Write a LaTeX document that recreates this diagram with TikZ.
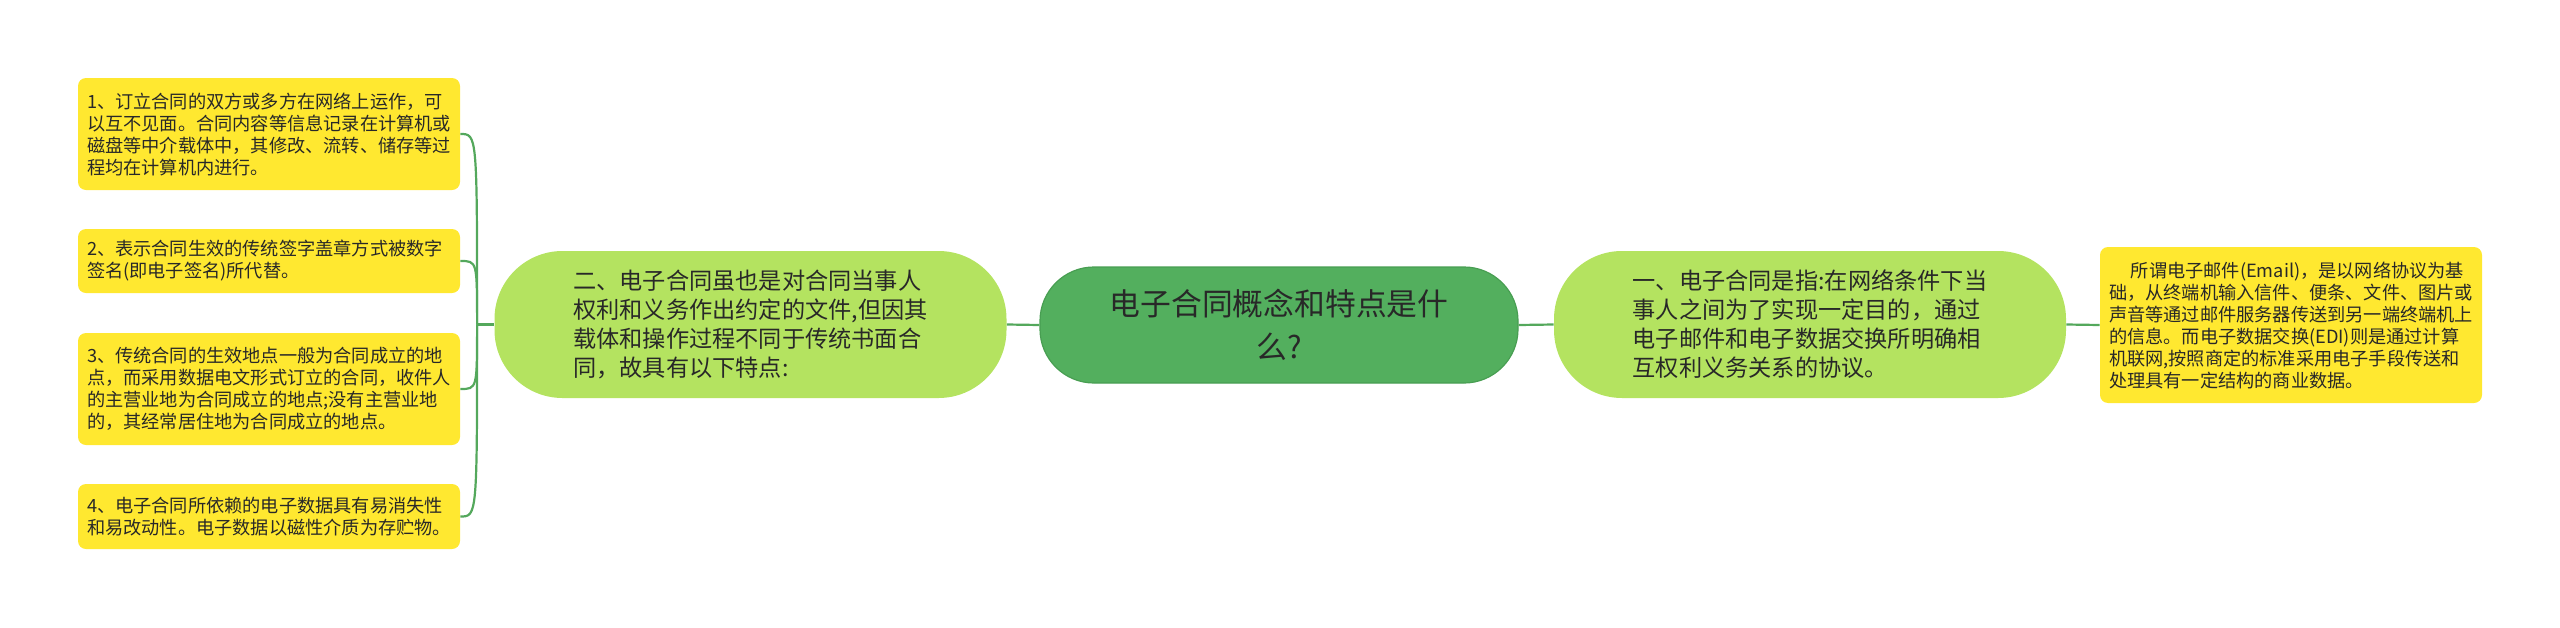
\documentclass[tikz,border=0pt]{standalone}
\usepackage{fontspec}
\setmainfont{Noto Sans CJK SC}
\definecolor{cenfill}{RGB}{83,175,94}
\definecolor{cendraw}{RGB}{72,158,82}
\definecolor{midfill}{RGB}{180,227,96}
\definecolor{leaffill}{RGB}{255,232,48}
\definecolor{linkc}{RGB}{84,168,92}
\definecolor{txt}{RGB}{40,40,40}
\tikzset{
  cenbox/.style={fill=cenfill, draw=cendraw, line width=0.6pt, rounded corners=27pt,
    minimum width=239pt, minimum height=58pt, align=center, inner sep=0pt,
    font=\fontsize{15.4pt}{21.5pt}\selectfont, text=txt},
  midbox/.style={fill=midfill, rounded corners=34pt, minimum width=256pt,
    minimum height=73.5pt, align=left, inner sep=0pt,
    font=\fontsize{11.6pt}{14.5pt}\selectfont, text=txt},
  leafbox/.style={fill=leaffill, rounded corners=4pt, text width=182pt,
    inner xsep=4.5pt, inner ysep=0pt, align=left,
    font=\fontsize{9.1pt}{11pt}\selectfont, text=txt},
  link/.style={draw=linkc, line width=1.1pt}
}
\begin{document}
\begin{tikzpicture}[x=0.5pt,y=-0.5pt]
\useasboundingbox (0,0) rectangle (2560,627);
\node[cenbox] (cen) at (1279,325) {电子合同概念和特点是什\\么?};
\node[midbox] (lmid) at (750.5,324.5) {二、电子合同虽也是对合同当事人\\权利和义务作出约定的文件,但因其\\载体和操作过程不同于传统书面合\\同，故具有以下特点:};
\node[midbox] (rmid) at (1810,324.5) {一、电子合同是指:在网络条件下当\\事人之间为了实现一定目的，通过\\电子邮件和电子数据交换所明确相\\互权利义务关系的协议。};
\node[leafbox, minimum height=78pt] (rleaf) at (2291,325) {\hspace*{1.2em}所谓电子邮件(Email)，是以网络协议为基\\础，从终端机输入信件、便条、文件、图片或\\声音等通过邮件服务器传送到另一端终端机上\\的信息。而电子数据交换(EDI)则是通过计算\\机联网,按照商定的标准采用电子手段传送和\\处理具有一定结构的商业数据。};
\node[leafbox, minimum height=56pt] (l1) at (269,134) {1、订立合同的双方或多方在网络上运作，可\\以互不见面。合同内容等信息记录在计算机或\\磁盘等中介载体中，其修改、流转、储存等过\\程均在计算机内进行。};
\node[leafbox, minimum height=32pt] (l2) at (269,261) {2、表示合同生效的传统签字盖章方式被数字\\签名(即电子签名)所代替。};
\node[leafbox, minimum height=56pt] (l3) at (269,389) {3、传统合同的生效地点一般为合同成立的地\\点，而采用数据电文形式订立的合同，收件人\\的主营业地为合同成立的地点;没有主营业地\\的，其经常居住地为合同成立的地点。};
\node[leafbox, minimum height=32.5pt] (l4) at (269,516.5) {4、电子合同所依赖的电子数据具有易消失性\\和易改动性。电子数据以磁性介质为存贮物。};
\draw[link] (cen.west) -- (lmid.east);
\draw[link] (cen.east) -- (rmid.west);
\draw[link] (rmid.east) -- (rleaf.west);
\coordinate (br) at ([xshift=-8.5pt]lmid.west);
\draw[link] (lmid.west) -- (br);
\foreach \n in {l1,l2,l3,l4}
  \draw[link] (br) .. controls (br |- \n.east) .. (\n.east);
\end{tikzpicture}
\end{document}
